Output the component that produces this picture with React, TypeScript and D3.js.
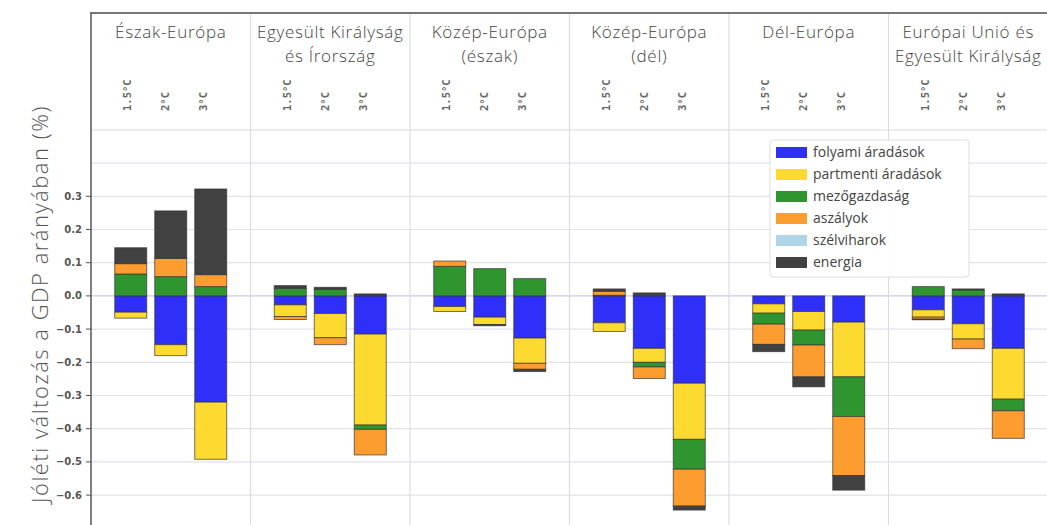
import * as d3 from "d3";

// régiók (panel címek, sorokra bontva)
const regions = [
  ["Észak-Európa"],
  ["Egyesült Királyság", "és Írország"],
  ["Közép-Európa", "(észak)"],
  ["Közép-Európa", "(dél)"],
  ["Dél-Európa"],
  ["Európai Unió és", "Egyesült Királyság"],
];
const scenarios = ["1.5°C", "2°C", "3°C"];
const sectors = [
  "folyami áradások",
  "partmenti áradások",
  "mezőgazdaság",
  "aszályok",
  "szélviharok",
  "energia",
];
const colors = ["#2f2ffa", "#fdda30", "#2f962f", "#fd9d30", "#aed6e8", "#414141"];

// értékek: régió -> forgatókönyv (1.5°C, 2°C, 3°C)
const folyami = [
  [-0.049, -0.147, -0.32],
  [-0.027, -0.053, -0.115],
  [-0.032, -0.064, -0.127],
  [-0.081, -0.158, -0.263],
  [-0.024, -0.047, -0.079],
  [-0.042, -0.084, -0.158],
];
const partmenti = [
  [-0.018, -0.033, -0.172],
  [-0.035, -0.073, -0.274],
  [-0.015, -0.022, -0.076],
  [-0.026, -0.042, -0.169],
  [-0.028, -0.056, -0.165],
  [-0.022, -0.046, -0.153],
];
const mezogazdasag = [
  [0.066, 0.058, 0.028],
  [0.023, 0.02, -0.013],
  [0.089, 0.082, 0.052],
  [0.002, -0.014, -0.09],
  [-0.033, -0.045, -0.119],
  [0.028, 0.018, -0.035],
];
const aszalyok = [
  [0.031, 0.055, 0.036],
  [-0.009, -0.021, -0.077],
  [0.016, 0.0, -0.018],
  [0.012, -0.035, -0.111],
  [-0.061, -0.096, -0.178],
  [-0.006, -0.029, -0.083],
];
const szelviharok = [
  [0, 0, 0],
  [0, 0, 0],
  [0, 0, 0],
  [0, 0, 0],
  [0, 0, 0],
  [0, 0, 0],
];
const energia = [
  [0.048, 0.143, 0.258],
  [0.008, 0.006, 0.006],
  [0, -0.004, -0.007],
  [0.007, 0.009, -0.012],
  [-0.022, -0.03, -0.044],
  [-0.002, 0.003, 0.006],
];
const yTicks = [0.3, 0.2, 0.1, 0.0, -0.1, -0.2, -0.3, -0.4, -0.5, -0.6];
const gridValues = [0.5, 0.4, ...yTicks];

const W = 1047;
const H = 525;
const left = 91;
const top = 13;

export default function App() {
  const series = [folyami, partmenti, mezogazdasag, aszalyok, szelviharok, energia];

  const y = d3.scaleLinear().domain([-0.69, 0.852]).range([H, top]);
  const panel = d3
    .scaleBand<number>()
    .domain(d3.range(regions.length))
    .range([left, 1048]);
  const inner = d3.scalePoint<string>().domain(scenarios).range([-40, 40]);
  // a felső forgatókönyv-feliratok kicsit sűrűbben állnak
  const labelPos = d3.scalePoint<string>().domain(scenarios).range([-40, 36]);
  const barW = 32;

  // halmozott szakaszok (pozitív felfelé, negatív lefelé)
  const segs: { x: number; y0: number; y1: number; c: string; key: string }[] = [];
  regions.forEach((_, r) => {
    scenarios.forEach((s, si) => {
      let pos = 0;
      let neg = 0;
      series.forEach((ser, k) => {
        const v = ser[r][si];
        if (!v) return;
        let a, b;
        if (v > 0) {
          a = pos;
          b = pos + v;
          pos = b;
        } else {
          a = neg;
          b = neg + v;
          neg = b;
        }
        const cx = panel(r)! + panel.bandwidth() / 2 + inner(s)!;
        segs.push({ x: cx - barW / 2, y0: y(Math.max(a, b)), y1: y(Math.min(a, b)), c: colors[k], key: `${r}-${s}-${k}` });
      });
    });
  });

  const fmt = (v: number) => d3.format(".1f")(v).replace("-", "−");

  return (
    <svg
      width={W}
      height={H}
      style={{ position: "absolute", left: 0, top: 0, background: "#fff" }}
      fontFamily="'Open Sans', sans-serif"
    >
      {/* rácsvonalak */}
      {gridValues.map((v) => (
        <line
          key={v}
          x1={left}
          x2={W}
          y1={y(v)}
          y2={y(v)}
          stroke={v === 0 ? "#c9c9f2" : "#e2e2ea"}
          strokeWidth={1.2}
        />
      ))}
      {regions.map((_, r) =>
        r === 0 ? null : (
          <line
            key={r}
            x1={panel(r)}
            x2={panel(r)}
            y1={top}
            y2={H}
            stroke="#dcdcdc"
            strokeWidth={1.2}
          />
        )
      )}

      {/* oszlopok */}
      {segs.map((d) => (
        <rect
          key={d.key}
          x={d.x}
          y={d.y0}
          width={barW}
          height={Math.max(d.y1 - d.y0, 0.5)}
          fill={d.c}
          stroke="#333"
          strokeOpacity={0.75}
          strokeWidth={0.9}
        />
      ))}

      {/* panel címek és forgatókönyvek */}
      {regions.map((lines, r) => {
        const cx = panel(r)! + panel.bandwidth() / 2;
        return (
          <g key={r}>
            {lines.map((t, i) => (
              <text
                key={i}
                x={cx}
                y={38 + i * 24}
                textAnchor="middle"
                fontSize={17}
                letterSpacing={0.7}
                fontWeight={300}
                fill="#444"
              >
                {t}
              </text>
            ))}
            {scenarios.map((s) => (
              <text
                key={s}
                transform={`translate(${cx + labelPos(s)! + 0.5},111) rotate(-90)`}
                fontSize={10.5}
                fontFamily="'DejaVu Sans Mono', monospace"
                fontWeight="bold"
                fill="#666"
              >
                {s}
              </text>
            ))}
          </g>
        );
      })}

      {/* keret és y tengely */}
      <line x1={left} x2={W} y1={top} y2={top} stroke="#777" strokeWidth={2} />
      <line x1={left} x2={left} y1={top - 1} y2={H} stroke="#555" strokeWidth={1.5} />
      {yTicks.map((v) => (
        <g key={v} transform={`translate(0,${y(v)})`}>
          <line x1={left - 5} x2={left} stroke="#555" strokeWidth={1} />
          <text
            x={left - 9}
            dy="0.35em"
            textAnchor="end"
            fontSize={10}
            fontFamily="'DejaVu Sans', sans-serif"
            fontWeight="bold"
            fill="#555"
          >
            {fmt(v)}
          </text>
        </g>
      ))}
      <text
        transform={`translate(48,${304}) rotate(-90)`}
        textAnchor="middle"
        fontSize={22}
        letterSpacing={1.5}
        fontWeight={300}
        fill="#555"
      >
        Jóléti változás a GDP arányában (%)
      </text>

      {/* jelmagyarázat */}
      <g>
        <rect x={770} y={140} width={199} height={137} rx={3} fill="#fff" fillOpacity={0.92} stroke="#ddd" />
        {sectors.map((s, i) => (
          <g key={s} transform={`translate(776,${152 + i * 22})`}>
            <rect x={0} y={-5} width={31} height={11} fill={colors[i]} />
            <text x={37} dy="0.35em" fontSize={14} fill="#444">
              {s}
            </text>
          </g>
        ))}
      </g>
    </svg>
  );
}
